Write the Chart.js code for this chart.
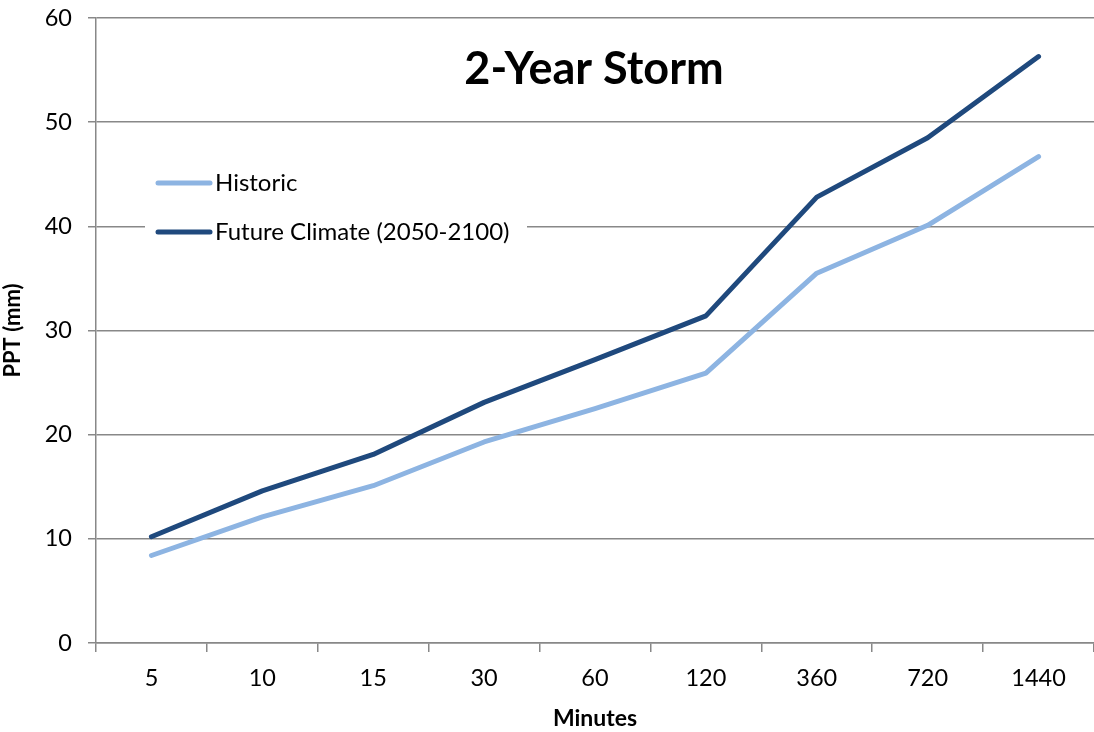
<!DOCTYPE html>
<html>
<head>
<meta charset="utf-8">
<script src="https://cdn.jsdelivr.net/npm/chart.js@4.4.1/dist/chart.umd.min.js"></script>
<style>
  html, body { margin: 0; padding: 0; background: #fff; }
  #wrap { width: 1094px; height: 732px; }
</style>
</head>
<body>
<div id="wrap"><canvas id="storm"></canvas></div>
<script>
// Data
var minutes = ['5', '10', '15', '30', '60', '120', '360', '720', '1440'];
var historic = [8.4, 12.1, 15.1, 19.3, 22.5, 25.9, 35.5, 40.1, 46.7];
var future = [10.2, 14.6, 18.1, 23.1, 27.2, 31.4, 42.8, 48.5, 56.3];
var yTicks = [0, 10, 20, 30, 40, 50, 60];

var FONT = 'Lato, "Open Sans", sans-serif';
var GRID = '#888888';
var LIGHT = '#8DB4E2';
var DARK = '#1F497D';

// title and legend sit inside the plot area, drawn by hand
var insidePlugin = {
    id: 'inside',
    afterDatasetsDraw: function(chart) {
        var c = chart.ctx;
        c.save();
        c.fillStyle = '#000';
        c.font = 'bold 45px ' + FONT;
        c.textAlign = 'center';
        c.textBaseline = 'middle';
        c.fillText('2-Year Storm', 594, 69);

        // legend box
        c.fillStyle = '#fff';
        c.fillRect(145, 162, 382, 88);
        var items = [['Historic', LIGHT, 183], ['Future Climate (2050-2100)', DARK, 232]];
        c.lineCap = 'round';
        c.lineWidth = 5;
        c.font = '24px ' + FONT;
        c.textAlign = 'left';
        items.forEach(function(it) {
            c.strokeStyle = it[1];
            c.beginPath();
            c.moveTo(158, it[2]);
            c.lineTo(210, it[2]);
            c.stroke();
            c.fillStyle = '#000';
            c.fillText(it[0], 215, it[2]);
        });
        c.restore();
    }
};

var chart = new Chart(document.getElementById('storm'), {
    type: 'line',
    data: {
        labels: minutes,
        datasets: [{
            label: 'Historic',
            data: historic,
            borderColor: LIGHT,
            borderWidth: 5,
            pointRadius: 0,
            tension: 0,
            borderCapStyle: 'round',
            borderJoinStyle: 'round'
        }, {
            label: 'Future Climate (2050-2100)',
            data: future,
            borderColor: DARK,
            borderWidth: 5,
            pointRadius: 0,
            tension: 0,
            borderCapStyle: 'round',
            borderJoinStyle: 'round'
        }]
    },
    options: {
        responsive: true,
        maintainAspectRatio: false,
        animation: false,
        layout: { padding: { left: 0, right: 0, top: 18, bottom: 0 } },
        plugins: {
            legend: { display: false },
            tooltip: { enabled: false }
        },
        scales: {
            x: {
                offset: true,
                grid: {
                    offset: true,
                    drawOnChartArea: false,
                    drawTicks: true,
                    tickLength: 9,
                    color: GRID,
                    lineWidth: 1.5
                },
                border: { color: GRID, width: 1.5 },
                ticks: {
                    color: '#000',
                    font: { family: FONT, size: 23.5 },
                    padding: 12,
                    maxRotation: 0
                },
                title: {
                    display: true,
                    text: 'Minutes',
                    color: '#000',
                    font: { family: FONT, size: 23, weight: 'bold' },
                    padding: { top: 6, bottom: 0 }
                },
                afterFit: function(s) {
                    s.height = 89;
                    s.paddingLeft = 0;
                    s.paddingRight = 0;
                }
            },
            y: {
                min: 0,
                max: 60,
                afterBuildTicks: function(s) {
                    s.ticks = yTicks.map(function(v) { return { value: v }; });
                },
                grid: {
                    color: GRID,
                    lineWidth: 1.5,
                    drawTicks: true,
                    tickLength: 8
                },
                border: { color: GRID, width: 1.5 },
                ticks: {
                    color: '#000',
                    font: { family: FONT, size: 23.5 },
                    padding: 16
                },
                title: {
                    display: true,
                    text: 'PPT (mm)',
                    color: '#000',
                    font: { family: FONT, size: 22, weight: 'bold' },
                    padding: { top: 0, bottom: 8 }
                },
                afterFit: function(s) {
                    s.width = 96;
                    s.paddingTop = 0;
                    s.paddingBottom = 0;
                }
            }
        }
    },
    plugins: [insidePlugin]
});
</script>
</body>
</html>
